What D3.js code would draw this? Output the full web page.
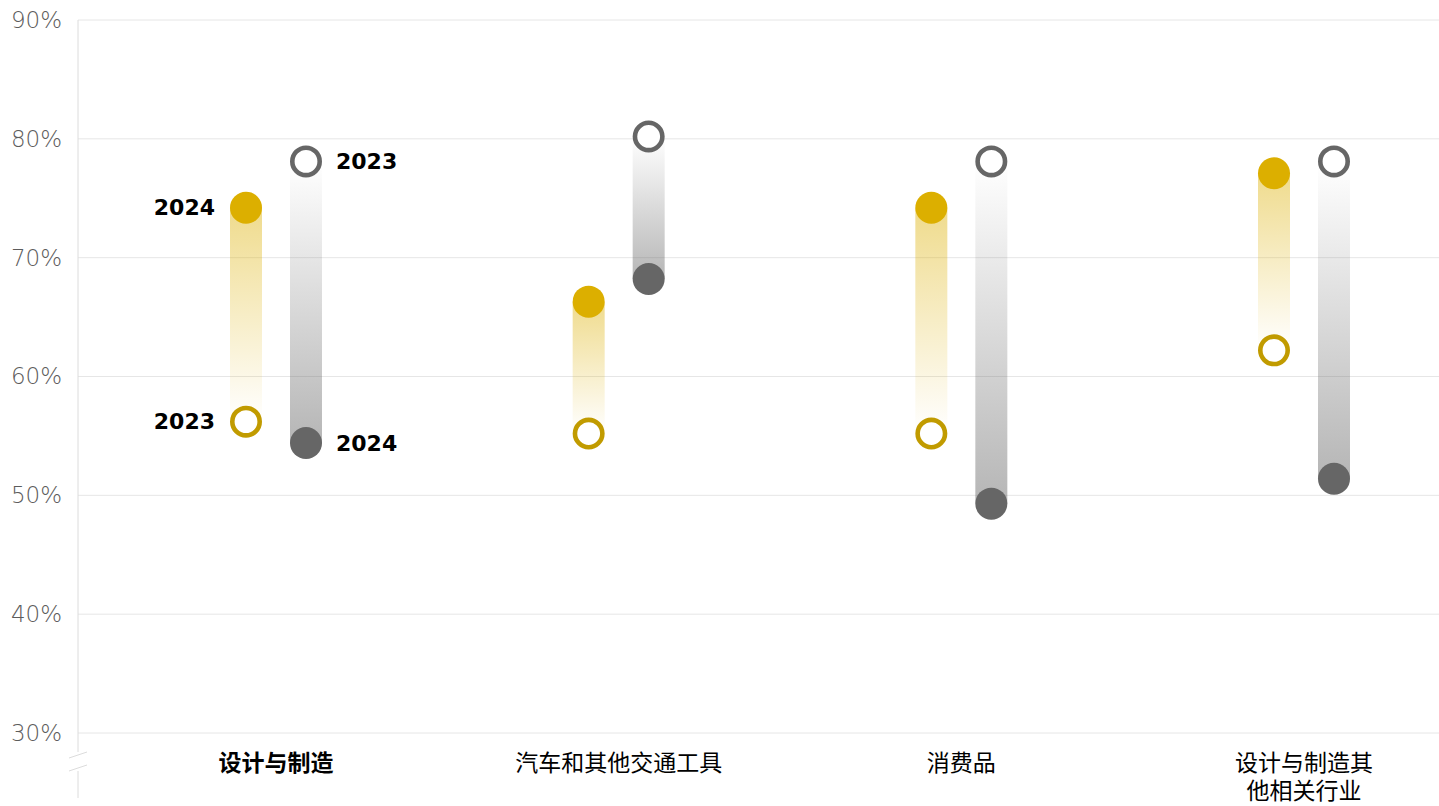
<!DOCTYPE html>
<html>
<head>
<meta charset="utf-8">
<script src="https://cdn.jsdelivr.net/npm/d3@7"></script>
<style>
  html, body { margin: 0; padding: 0; background: #fff; }
  svg { display: block; }
</style>
</head>
<body>
<svg id="chart" width="1439" height="806"></svg>
<script>
// Categories (the last one wraps over two lines)
const categories = ["设计与制造", "汽车和其他交通工具", "消费品", "设计与制造其他相关行业"];
const categoryLines = [["设计与制造"], ["汽车和其他交通工具"], ["消费品"], ["设计与制造其", "他相关行业"]];

// Share values (%) per category: yellow series and grey series, 2023 and 2024
const yellow2023 = [56.2, 55.2, 55.2, 62.2];
const yellow2024 = [74.2, 66.3, 74.2, 77.1];
const grey2023   = [78.1, 80.2, 78.1, 78.1];
const grey2024   = [54.4, 68.2, 49.3, 51.4];

const yTicks = [30, 40, 50, 60, 70, 80, 90];

const svg = d3.select("#chart");
const W = 1439, H = 806;
const plotLeft = 78, plotTop = 20, plotBottom = 733;

const y = d3.scaleLinear().domain([30, 90]).range([plotBottom, plotTop]);
const x = d3.scalePoint().domain(categories).range([276, 1304]);
const offset = 30;     // half distance between the yellow and grey columns
const barW = 32;
const r = 16;

const COL_Y = "#dcaf00", COL_Y_RING = "#c19b00", COL_G = "#666666";

// gradients: transparent at the 2023 end, tinted at the 2024 end
const defs = svg.append("defs");
function grad(id, color, topAlpha, botAlpha) {
  const g = defs.append("linearGradient").attr("id", id)
    .attr("x1", 0).attr("y1", 0).attr("x2", 0).attr("y2", 1);
  g.append("stop").attr("offset", "0%").attr("stop-color", color).attr("stop-opacity", topAlpha);
  g.append("stop").attr("offset", "100%").attr("stop-color", color).attr("stop-opacity", botAlpha);
}
grad("gYellowUp", COL_Y, 0.45, 0.0);   // 2024 on top
grad("gYellowDown", COL_Y, 0.0, 0.45);
grad("gGreyUp", COL_G, 0.48, 0.0);
grad("gGreyDown", COL_G, 0.0, 0.48);

// grid
svg.append("g").selectAll("line").data(yTicks).join("line")
  .attr("x1", plotLeft).attr("x2", W)
  .attr("y1", d => y(d)).attr("y2", d => y(d))
  .attr("stroke", "#e6e6e6").attr("stroke-width", 1);

// y axis labels
const yAxis = d3.axisLeft(y).tickValues(yTicks).tickFormat(d => d + "%").tickSize(0).tickPadding(16);
const ya = svg.append("g").attr("transform", `translate(${plotLeft},0)`).call(yAxis);
ya.select(".domain").remove();
ya.selectAll("text")
  .attr("font-family", "'DejaVu Sans', sans-serif").attr("font-weight", 200)
  .attr("font-size", 23).attr("fill", "#5c5c5c");

// vertical axis line with a break
const axisG = svg.append("g").attr("stroke", "#dcdcdc").attr("stroke-width", 1).attr("fill", "none");
axisG.append("line").attr("x1", plotLeft).attr("x2", plotLeft).attr("y1", plotTop).attr("y2", 752);
axisG.append("line").attr("x1", plotLeft).attr("x2", plotLeft).attr("y1", 771).attr("y2", 798);
axisG.append("line").attr("x1", plotLeft - 9).attr("x2", plotLeft + 9).attr("y1", 758).attr("y2", 752);
axisG.append("line").attr("x1", plotLeft - 9).attr("x2", plotLeft + 9).attr("y1", 771).attr("y2", 765);

// columns
function drawSeries(v23, v24, dx, color, ringColor, gradUp, gradDown) {
  const g = svg.append("g");
  categories.forEach((c, i) => {
    const cx = x(c) + dx;
    const a = v23[i], b = v24[i];
    const y0 = y(Math.max(a, b)), y1 = y(Math.min(a, b));
    g.append("rect")
      .attr("x", cx - barW / 2).attr("width", barW)
      .attr("y", y0).attr("height", y1 - y0)
      .attr("fill", b > a ? `url(#${gradUp})` : `url(#${gradDown})`);
    // 2024: filled dot
    g.append("circle").attr("cx", cx).attr("cy", y(b)).attr("r", r).attr("fill", color);
    // 2023: ring
    g.append("circle").attr("cx", cx).attr("cy", y(a)).attr("r", r - 2.3)
      .attr("fill", "#fff").attr("stroke", ringColor).attr("stroke-width", 4.6);
  });
}
drawSeries(yellow2023, yellow2024, -offset, COL_Y, COL_Y_RING, "gYellowUp", "gYellowDown");
drawSeries(grey2023, grey2024, offset, COL_G, COL_G, "gGreyUp", "gGreyDown");

// year labels on the first category
const c0 = categories[0];
const yearStyle = s => s.attr("font-family", "'DejaVu Sans', sans-serif").attr("font-weight", 700)
  .attr("font-size", 22).attr("fill", "#000").attr("dominant-baseline", "central");
svg.append("text").attr("x", x(c0) - offset - 31).attr("y", y(yellow2024[0]))
  .attr("text-anchor", "end").text("2024").call(yearStyle);
svg.append("text").attr("x", x(c0) - offset - 31).attr("y", y(yellow2023[0]))
  .attr("text-anchor", "end").text("2023").call(yearStyle);
svg.append("text").attr("x", x(c0) + offset + 30).attr("y", y(grey2023[0]))
  .attr("text-anchor", "start").text("2023").call(yearStyle);
svg.append("text").attr("x", x(c0) + offset + 30).attr("y", y(grey2024[0]))
  .attr("text-anchor", "start").text("2024").call(yearStyle);

// category labels, one text element per line
const catG = svg.append("g");
categories.forEach((c, i) => {
  categoryLines[i].forEach((line, k) => {
    catG.append("text")
      .attr("x", x(c)).attr("y", 771 + k * 28)
      .attr("text-anchor", "middle")
      .attr("font-family", "'Noto Sans CJK SC', sans-serif")
      .attr("font-size", 23)
      .attr("font-weight", i === 0 ? 700 : 400)
      .attr("fill", "#000")
      .text(line);
  });
});
</script>
</body>
</html>
